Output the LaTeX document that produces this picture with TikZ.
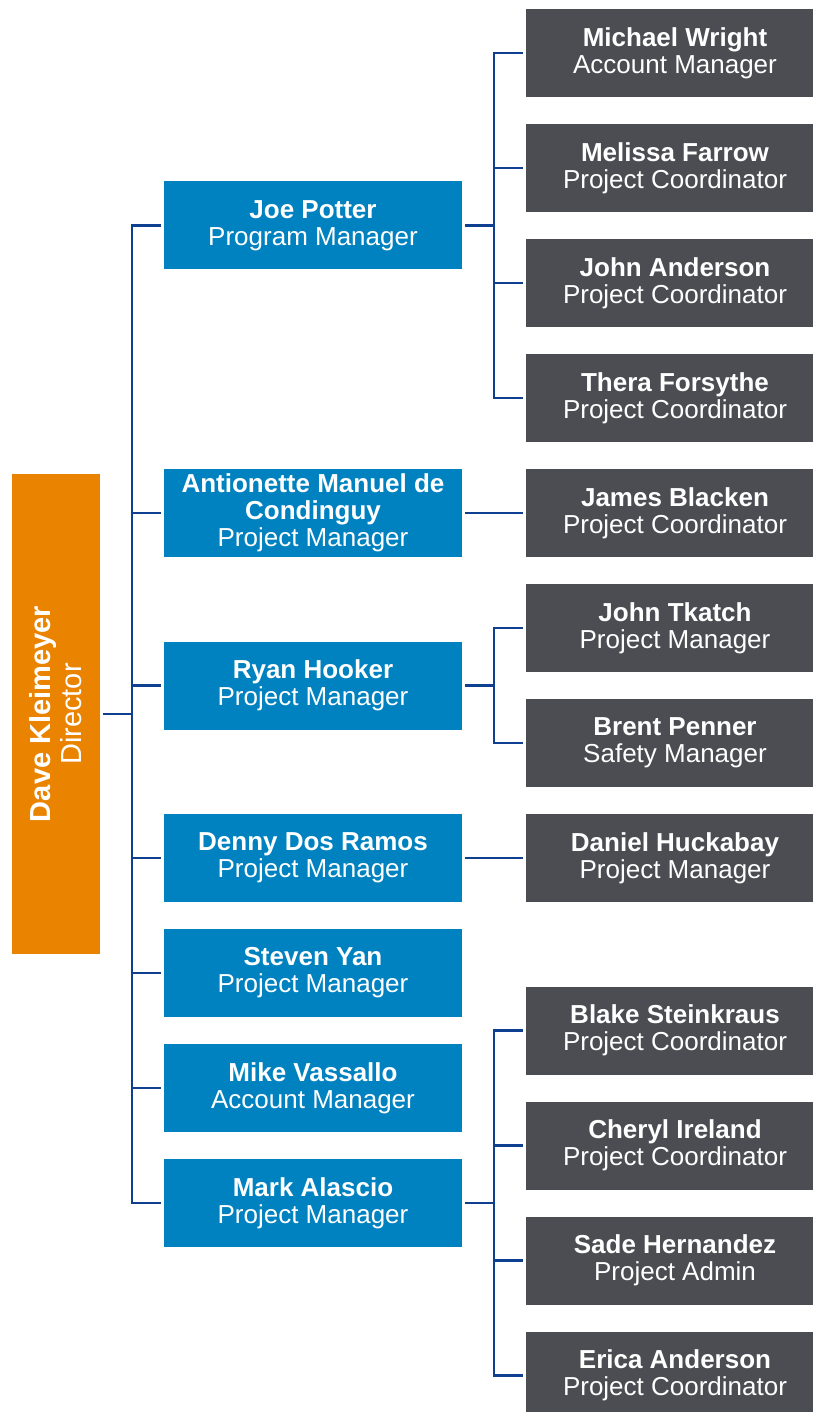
\documentclass[tikz,border=0pt]{standalone}
\usepackage{fontspec}
\setmainfont{Liberation Sans}
\usetikzlibrary{positioning,calc}
\definecolor{OrgOrange}{HTML}{E98300}
\definecolor{OrgBlue}{HTML}{0082C0}
\definecolor{OrgGray}{HTML}{4C4D52}
\definecolor{OrgLine}{HTML}{0F3F91}

\begin{document}
\begin{tikzpicture}[
        x=1pt, y=-1pt,
        node distance=21pt,
        box/.style={rectangle, text=white, minimum height=88pt, outer sep=3pt, inner sep=0pt,
                    align=center, font=\fontsize{26}{27}\selectfont},
        director/.style={box, fill=OrgOrange, rotate=90, minimum width=480pt,
                         font=\fontsize{29}{31}\selectfont},
        manager/.style={box, fill=OrgBlue, minimum width=298pt},
        staff/.style={box, fill=OrgGray, minimum width=298pt},
        link/.style={draw=OrgLine, line width=2.6pt}
    ]
        \useasboundingbox (0,0) rectangle (812,1412);
        \coordinate (mancol) at (313,0);
        \coordinate (buscol) at (494,0);
        % staff column
        \node[staff] (michael) at (675,53) {\textbf{Michael Wright}\\ Account Manager};
        \node[staff, below=of michael] (melissa) {\textbf{Melissa Farrow}\\ Project Coordinator};
        \node[staff, below=of melissa] (johna)   {\textbf{John Anderson}\\ Project Coordinator};
        \node[staff, below=of johna]   (thera)   {\textbf{Thera Forsythe}\\ Project Coordinator};
        \node[staff, below=of thera]   (james)   {\textbf{James Blacken}\\ Project Coordinator};
        \node[staff, below=of james]   (johnt)   {\textbf{John Tkatch}\\ Project Manager};
        \node[staff, below=of johnt]   (brent)   {\textbf{Brent Penner}\\ Safety Manager};
        \node[staff, below=of brent]   (daniel)  {\textbf{Daniel Huckabay}\\ Project Manager};
        \coordinate (joemid)  at ($(michael)!0.5!(thera)$);
        \coordinate (ryanmid) at ($(johnt)!0.5!(brent)$);
        % managers
        \node[manager] (joe)   at (mancol |- joemid)  {\textbf{Joe Potter}\\ Program Manager};
        \node[manager] (ant)   at (mancol |- james)   {\textbf{Antionette Manuel de}\\ \textbf{Condinguy}\\ Project Manager};
        \node[manager] (ryan)  at (mancol |- ryanmid) {\textbf{Ryan Hooker}\\ Project Manager};
        \node[manager] (denny) at (mancol |- daniel)  {\textbf{Denny Dos Ramos}\\ Project Manager};
        \node[manager, below=of denny]  (steven) {\textbf{Steven Yan}\\ Project Manager};
        \node[manager, below=of steven] (mike)   {\textbf{Mike Vassallo}\\ Account Manager};
        \node[manager, below=of mike]   (mark)   {\textbf{Mark Alascio}\\ Project Manager};
        % staff under Mark
        \node[staff, yshift=-57.5pt] (sade) at (michael |- mark) {\textbf{Sade Hernandez}\\ Project Admin};
        \node[staff, above=of sade]   (cheryl) {\textbf{Cheryl Ireland}\\ Project Coordinator};
        \node[staff, above=of cheryl] (blake)  {\textbf{Blake Steinkraus}\\ Project Coordinator};
        \node[staff, below=of sade]   (erica)  {\textbf{Erica Anderson}\\ Project Coordinator};
        % director
        \node[director] (dave) at (56,714) {\textbf{Dave Kleimeyer}\\ Director};
        % connectors
        \coordinate (davebus) at (132,714);
        \path[link] (dave.south) -- (davebus);
        \foreach \n in {joe,ant,ryan,denny,steven,mike,mark}
            \path[link] (davebus) |- (\n.west);
        \coordinate (joebus) at (buscol |- joe);
        \path[link] (joe.east) -- (joebus);
        \foreach \n in {michael,melissa,johna,thera}
            \path[link] (joebus) |- (\n.west);
        \path[link] (ant.east) -- (james.west);
        \coordinate (ryanbus) at (buscol |- ryan);
        \path[link] (ryan.east) -- (ryanbus);
        \foreach \n in {johnt,brent}
            \path[link] (ryanbus) |- (\n.west);
        \path[link] (denny.east) -- (daniel.west);
        \coordinate (markbus) at (buscol |- mark);
        \path[link] (mark.east) -- (markbus);
        \foreach \n in {blake,cheryl,sade,erica}
            \path[link] (markbus) |- (\n.west);
    \end{tikzpicture}
\end{document}
